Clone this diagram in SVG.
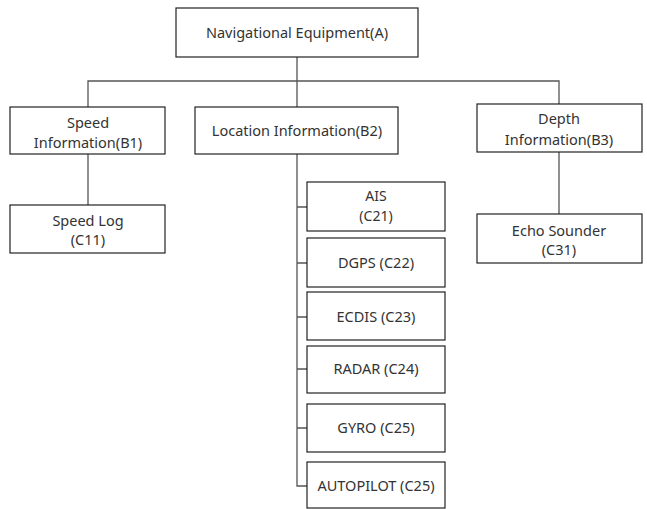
<svg xmlns="http://www.w3.org/2000/svg" width="647" height="509" viewBox="0 0 647 509">
<style>
.box{fill:#fff;stroke:#222;stroke-width:1.2}
.ln{fill:none;stroke:#555;stroke-width:1.3}
text{font-family:"Noto Sans","Open Sans",sans-serif;font-size:14.5px;fill:#333;text-anchor:middle}
.t2{font-size:14px}
</style>
<rect width="647" height="509" fill="#fff"/>
<g id="connectors">
<path class="ln" d="M297,57 V81 M88,107 V81 H559 V104 M297,81 V107"/>
<path class="ln" d="M88,154 V205 M559,152 V214"/>
<path class="ln" d="M297,154 V486 H307 M297,207 H307 M297,263 H307 M297,317 H307 M297,369 H307 M297,428 H307"/>
</g>
<g id="A"><rect class="box" x="176" y="8" width="242" height="49"/><text x="297" y="38">Navigational Equipment(A)</text></g>
<g id="B1"><rect class="box" x="10" y="107" width="155" height="47"/><text x="88" y="128">Speed</text><text x="88" y="148">Information(B1)</text></g>
<g id="B2"><rect class="box" x="195" y="107" width="203" height="47"/><text x="297" y="136">Location Information(B2)</text></g>
<g id="B3"><rect class="box" x="477" y="104" width="165" height="48"/><text x="559" y="124">Depth</text><text x="559" y="145">Information(B3)</text></g>
<g id="C11"><rect class="box" x="10" y="205" width="155" height="48"/><text x="88" y="226">Speed Log</text><text x="88" y="245">(C11)</text></g>
<g id="C31"><rect class="box" x="477" y="214" width="165" height="49"/><text x="559" y="236">Echo Sounder</text><text x="559" y="255">(C31)</text></g>
<g id="C21"><rect class="box" x="307" y="182" width="138" height="49"/><text class="t2" x="376" y="201">AIS</text><text class="t2" x="376" y="221">(C21)</text></g>
<g id="C22"><rect class="box" x="307" y="238" width="138" height="49"/><text x="376" y="268">DGPS (C22)</text></g>
<g id="C23"><rect class="box" x="307" y="292" width="138" height="48"/><text x="376" y="322">ECDIS (C23)</text></g>
<g id="C24"><rect class="box" x="307" y="346" width="138" height="47"/><text x="376" y="374">RADAR (C24)</text></g>
<g id="C25a"><rect class="box" x="307" y="404" width="138" height="48"/><text x="376" y="433">GYRO (C25)</text></g>
<g id="C25b"><rect class="box" x="307" y="462" width="138" height="46"/><text x="376" y="491">AUTOPILOT (C25)</text></g>
</svg>
